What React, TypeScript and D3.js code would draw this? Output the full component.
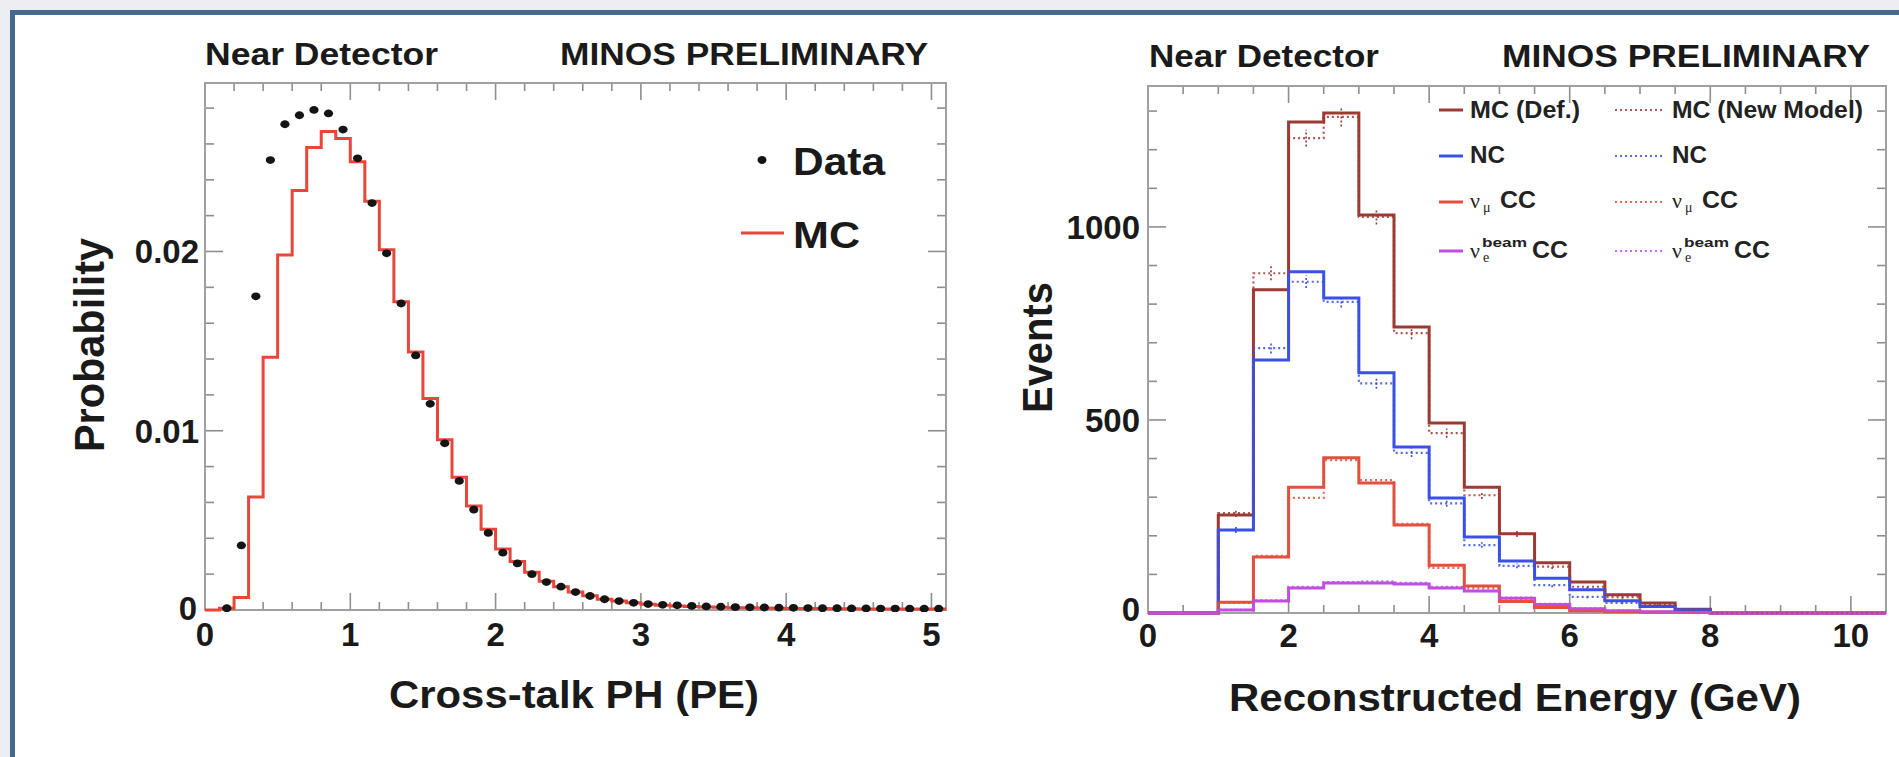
import React from 'react';
import * as d3 from 'd3';

// ---------- Left panel: cross-talk pulse height ----------
const xtalkBinWidth = 0.1;
const xtalkMC = [
  0, 0.0001, 0.0007, 0.0063, 0.0141, 0.0198, 0.0234, 0.0258, 0.0267, 0.0263,
  0.025, 0.0228, 0.0201, 0.0172, 0.0144, 0.0118, 0.0095, 0.0074, 0.0058, 0.0045,
  0.0034, 0.0027, 0.0021, 0.0016, 0.0013, 0.001, 0.0008, 0.0006, 0.0005, 0.0004,
  0.00032, 0.00027, 0.00023, 0.0002, 0.00017, 0.00015, 0.00013, 0.00012, 0.00011, 0.0001,
  0.00009, 0.00008, 0.00008, 0.00007, 0.00007, 0.00006, 0.00006, 0.00006, 0.00005, 0.00005, 0.00005,
];
const xtalkData: (number | null)[] = [
  null, 0.0001, 0.0036, 0.0175, 0.0251, 0.0271, 0.0276, 0.0279, 0.0277, 0.0268,
  0.0252, 0.0227, 0.0199, 0.0171, 0.0142, 0.0115, 0.0093, 0.0072, 0.0056, 0.0043,
  0.0032, 0.0026, 0.002, 0.00156, 0.0013, 0.001, 0.00078, 0.0006, 0.0005, 0.0004,
  0.00033, 0.00029, 0.00026, 0.00023, 0.0002, 0.00018, 0.00016, 0.00015, 0.00014, 0.00013,
  0.00012, 0.00011, 0.0001, 0.0001, 0.00009, 0.00009, 0.00008, 0.00008, 0.00007, 0.00007, 0.00007,
];
const xtalkXTicks = [0, 1, 2, 3, 4, 5];
const xtalkYTicks = [0, 0.01, 0.02];
const xtalkYTickLabels = ['0', '0.01', '0.02'];

// ---------- Right panel: reconstructed energy ----------
const energyBinWidth = 0.5;
const mcDef = [0, 0, 254, 837, 1272, 1295, 1031, 741, 492, 326, 205, 130, 80, 47, 26, 10, 0, 0, 0, 0, 0];
const ncDef = [0, 0, 215, 655, 884, 816, 622, 430, 298, 197, 135, 90, 60, 32, 17, 8, 0, 0, 0, 0, 0];
const numuDef = [0, 0, 28, 145, 326, 402, 337, 228, 124, 70, 30, 14, 6, 3, 2, 1, 0, 0, 0, 0, 0];
const nueDef = [0, 0, 8, 31, 65, 78, 78, 75, 65, 57, 38, 22, 11, 6, 3, 1, 0, 0, 0, 0, 0];
const mcNew = [0, 0, 259, 880, 1230, 1285, 1026, 725, 466, 305, 205, 120, 68, 41, 21, 8, 0, 0, 0, 0, 0];
const ncNew = [0, 0, 215, 686, 858, 806, 595, 415, 284, 176, 122, 72, 42, 26, 16, 9, 0, 0, 0, 0, 0];
const numuNew = [0, 0, 26, 148, 298, 396, 344, 231, 117, 65, 33, 13, 6, 3, 2, 1, 0, 0, 0, 0, 0];
const nueNew = [0, 0, 8, 33, 68, 80, 82, 78, 68, 58, 40, 24, 12, 6, 3, 1, 0, 0, 0, 0, 0];
const mcNewErr = [0, 0, 10, 18, 22, 25, 20, 16, 12, 10, 8, 6, 5, 4, 3, 2, 0, 0, 0, 0, 0];
const ncNewErr = [0, 0, 8, 14, 16, 15, 14, 11, 9, 7, 6, 5, 4, 3, 2, 2, 0, 0, 0, 0, 0];
const energyXTicks = [0, 2, 4, 6, 8, 10];
const energyYTicks = [0, 500, 1000];

const FONT = "'Liberation Sans', Arial, Helvetica, sans-serif";
const SERIF = "'Liberation Serif', 'DejaVu Serif', serif";
const FRAME = '#a0a0a0';
const TICK = '#8e8e8e';

const C_MC = '#9c3a33';
const C_NC = '#3a50e6';
const C_NUMU = '#e2503e';
const C_NUE = '#c04fe0';
const C_RED = '#e8463a';

// width a label would take at the reference's glyph width (33px Helvetica-like digits)
function labelWidth(s: string) {
  let w = 0;
  for (const ch of s) w += ch === '.' ? 0.278 : 0.556;
  return w * 33;
}

function histPath(values: number[], binW: number, xs: any, ys: any) {
  const pts: [number, number][] = values.map((v, i) => [i * binW, v]);
  pts.push([values.length * binW, values[values.length - 1]]);
  return (
    d3
      .line<[number, number]>()
      .x((d) => xs(d[0]))
      .y((d) => ys(d[1]))
      .curve(d3.curveStepAfter)(pts) || ''
  );
}

function Frame({ xs, ys, xMajor, xMinor, yMajor, yMinor }: any) {
  const [x0, x1] = xs.range();
  const [y0, y1] = ys.range();
  const lines: any[] = [];
  const xMaj = 17, xMin = 8, yMaj = 18, yMin = 9;
  const xd = xs.domain();
  const yd = ys.domain();
  const eps = 1e-9;
  const xTicks = d3.range(xd[0], xd[1] + eps, xMinor).filter((v) => v > xd[0] + eps && v < xd[1] - eps);
  xTicks.forEach((v, i) => {
    const isMaj = Math.abs(v / xMajor - Math.round(v / xMajor)) < 1e-6;
    const L = isMaj ? xMaj : xMin;
    const px = xs(v);
    lines.push(<line key={'xb' + i} x1={px} x2={px} y1={y0} y2={y0 - L} />);
    lines.push(<line key={'xt' + i} x1={px} x2={px} y1={y1} y2={y1 + L} />);
  });
  const yTicks = d3.range(yd[0], yd[1] + eps, yMinor).filter((v) => v > yd[0] + eps && v < yd[1] - eps);
  yTicks.forEach((v, i) => {
    const isMaj = Math.abs(v / yMajor - Math.round(v / yMajor)) < 1e-6;
    const L = isMaj ? yMaj : yMin;
    const py = ys(v);
    lines.push(<line key={'yl' + i} x1={x0} x2={x0 + L} y1={py} y2={py} />);
    lines.push(<line key={'yr' + i} x1={x1} x2={x1 - L} y1={py} y2={py} />);
  });
  return (
    <g>
      <g stroke={TICK} strokeWidth={1.6}>{lines}</g>
      <rect x={x0} y={y1} width={x1 - x0} height={y0 - y1} fill="none" stroke={FRAME} strokeWidth={2} />
    </g>
  );
}

function LeftPanel() {
  const xs = d3.scaleLinear().domain([0, 5.1]).range([205, 946]);
  const ys = d3.scaleLinear().domain([0, 0.0294]).range([610, 83]);
  const [x0, x1] = xs.range();
  const [y0, y1] = ys.range();
  return (
    <g fontFamily={FONT}>
      <defs>
        <clipPath id="clipL">
          <rect x={x0 - 2} y={y1} width={x1 - x0 + 4} height={y0 - y1 + 2} />
        </clipPath>
      </defs>
      <Frame xs={xs} ys={ys} xMajor={1} xMinor={0.2} yMajor={0.01} yMinor={0.002} />
      <g clipPath="url(#clipL)">
        <path d={histPath(xtalkMC, xtalkBinWidth, xs, ys)} fill="none" stroke={C_RED} strokeWidth={3} />
        {xtalkData.map((v, i) =>
          v == null ? null : (
            <ellipse key={i} cx={xs((i + 0.5) * xtalkBinWidth)} cy={ys(v)} rx={4.6} ry={3.9} fill="#141414" />
          )
        )}
      </g>
      {/* tick labels */}
      <g fontWeight="bold" fontSize={34} fill="#1a1a1a">
        {xtalkXTicks.map((t) => (
          <text
            key={'x' + t}
            x={xs(t)}
            y={646}
            textAnchor="middle"
            textLength={labelWidth(String(t))}
            lengthAdjust="spacingAndGlyphs"
          >
            {t}
          </text>
        ))}
        {xtalkYTicks.map((t, i) => (
          <text
            key={'y' + t}
            x={t === 0 ? 197 : 199}
            y={ys(t) + (t === 0 ? 10 : 12)}
            textAnchor="end"
            textLength={labelWidth(xtalkYTickLabels[i])}
            lengthAdjust="spacingAndGlyphs"
          >
            {xtalkYTickLabels[i]}
          </text>
        ))}
      </g>
      {/* titles */}
      <g fontWeight="bold" fill="#1a1a1a">
        <text x={205} y={65} fontSize={32} textLength={233} lengthAdjust="spacingAndGlyphs">
          Near Detector
        </text>
        <text x={560} y={65} fontSize={32} textLength={368} lengthAdjust="spacingAndGlyphs">
          MINOS PRELIMINARY
        </text>
        <text x={389} y={708} fontSize={38} textLength={370} lengthAdjust="spacingAndGlyphs">
          Cross-talk PH (PE)
        </text>
        <text
          transform="translate(104,452) rotate(-90)"
          x={0}
          y={0}
          fontSize={42}
          textLength={214}
          lengthAdjust="spacingAndGlyphs"
        >
          Probability
        </text>
      </g>
      {/* legend */}
      <ellipse cx={762} cy={160} rx={4.5} ry={4} fill="#141414" />
      <text x={793} y={175} fontSize={38} fontWeight="bold" fill="#1a1a1a" textLength={92} lengthAdjust="spacingAndGlyphs">
        Data
      </text>
      <line x1={741} x2={784} y1={233} y2={233} stroke={C_RED} strokeWidth={3} />
      <text x={793} y={248} fontSize={37} fontWeight="bold" fill="#1a1a1a" textLength={67} lengthAdjust="spacingAndGlyphs">
        MC
      </text>
    </g>
  );
}

function RightPanel() {
  const xs = d3.scaleLinear().domain([0, 10.5]).range([1148, 1886]);
  const ys = d3.scaleLinear().domain([0, 1365]).range([613, 86]);
  const [x0, x1] = xs.range();
  const [y0, y1] = ys.range();
  const solid = [
    { v: mcDef, c: C_MC },
    { v: ncDef, c: C_NC },
    { v: numuDef, c: C_NUMU },
    { v: nueDef, c: C_NUE },
  ];
  const dotted = [
    { v: mcNew, c: C_MC, e: mcNewErr },
    { v: ncNew, c: C_NC, e: ncNewErr },
    { v: numuNew, c: C_NUMU, e: null },
    { v: nueNew, c: C_NUE, e: null },
  ];
  const colA = 1439;
  const colB = 1615;
  const rowY = [110, 156, 202, 251];
  const rowBase = [118, 163, 208, 258];
  const nuLabel = (x: number, base: number, sub: string, sup: string | null) => (
    <g>
      <text x={x} y={base} fontFamily={SERIF} fontSize={22} fill="#222">
        ν
      </text>
      {sup && (
        <text x={x + 12} y={base - 11} fontSize={13} fontWeight="bold" fill="#222" textLength={45} lengthAdjust="spacingAndGlyphs">
          {sup}
        </text>
      )}
      <text x={x + 13} y={base + 4} fontFamily={SERIF} fontSize={14} fill="#222">
        {sub}
      </text>
      <text x={sup ? x + 62 : x + 30} y={base} fontSize={23} fontWeight="bold" fill="#222" textLength={36} lengthAdjust="spacingAndGlyphs">
        CC
      </text>
    </g>
  );
  return (
    <g fontFamily={FONT}>
      <defs>
        <clipPath id="clipR">
          <rect x={x0} y={y1} width={x1 - x0} height={y0 - y1 + 2} />
        </clipPath>
      </defs>
      <Frame xs={xs} ys={ys} xMajor={2} xMinor={0.5} yMajor={500} yMinor={100} />
      <g clipPath="url(#clipR)">
        {solid.map((s, i) => (
          <path key={'s' + i} d={histPath(s.v, energyBinWidth, xs, ys)} fill="none" stroke={s.c} strokeWidth={3} />
        ))}
        {dotted.map((s, i) => (
          <g key={'d' + i}>
            <path
              d={histPath(s.v, energyBinWidth, xs, ys)}
              fill="none"
              stroke={s.c}
              strokeOpacity={0.85}
              strokeWidth={2.2}
              strokeDasharray="2 3"
            />
            {s.e &&
              s.v.map((v, j) =>
                s.e![j] > 0 ? (
                  <line
                    key={j}
                    x1={xs((j + 0.5) * energyBinWidth)}
                    x2={xs((j + 0.5) * energyBinWidth)}
                    y1={ys(v - s.e![j])}
                    y2={ys(v + s.e![j])}
                    stroke={s.c}
                    strokeWidth={1.6}
                    strokeDasharray="2 2"
                  />
                ) : null
              )}
          </g>
        ))}
      </g>
      {/* tick labels */}
      <g fontWeight="bold" fontSize={34} fill="#1a1a1a">
        {energyXTicks.map((t) => (
          <text
            key={'x' + t}
            x={xs(t)}
            y={647}
            textAnchor="middle"
            textLength={labelWidth(String(t))}
            lengthAdjust="spacingAndGlyphs"
          >
            {t}
          </text>
        ))}
        {energyYTicks.map((t) => (
          <text
            key={'y' + t}
            x={1140}
            y={ys(t) + (t === 0 ? 8 : 12)}
            textAnchor="end"
            textLength={labelWidth(String(t))}
            lengthAdjust="spacingAndGlyphs"
          >
            {t}
          </text>
        ))}
      </g>
      <g fontWeight="bold" fill="#1a1a1a">
        <text x={1149} y={67} fontSize={32} textLength={230} lengthAdjust="spacingAndGlyphs">
          Near Detector
        </text>
        <text x={1502} y={67} fontSize={32} textLength={368} lengthAdjust="spacingAndGlyphs">
          MINOS PRELIMINARY
        </text>
        <text x={1229} y={711} fontSize={39} textLength={572} lengthAdjust="spacingAndGlyphs">
          Reconstructed Energy (GeV)
        </text>
        <text
          transform="translate(1052,413) rotate(-90)"
          x={0}
          y={0}
          fontSize={42}
          textLength={131}
          lengthAdjust="spacingAndGlyphs"
        >
          Events
        </text>
      </g>
      {/* legend */}
      <g>
        {[C_MC, C_NC, C_NUMU, C_NUE].map((c, i) => (
          <g key={'lg' + i}>
            <line x1={colA} x2={colA + 24} y1={rowY[i]} y2={rowY[i]} stroke={c} strokeWidth={3} />
            <line
              x1={colB}
              x2={colB + 47}
              y1={rowY[i]}
              y2={rowY[i]}
              stroke={c}
              strokeOpacity={0.85}
              strokeWidth={2.2}
              strokeDasharray="2 3"
            />
          </g>
        ))}
        <text x={1470} y={rowBase[0]} fontSize={23} fontWeight="bold" fill="#222" textLength={110} lengthAdjust="spacingAndGlyphs">
          MC (Def.)
        </text>
        <text x={1672} y={rowBase[0]} fontSize={23} fontWeight="bold" fill="#222" textLength={191} lengthAdjust="spacingAndGlyphs">
          MC (New Model)
        </text>
        <text x={1470} y={rowBase[1]} fontSize={23} fontWeight="bold" fill="#222" textLength={35} lengthAdjust="spacingAndGlyphs">
          NC
        </text>
        <text x={1672} y={rowBase[1]} fontSize={23} fontWeight="bold" fill="#222" textLength={35} lengthAdjust="spacingAndGlyphs">
          NC
        </text>
        {nuLabel(1470, rowBase[2], 'μ', null)}
        {nuLabel(1672, rowBase[2], 'μ', null)}
        {nuLabel(1470, rowBase[3], 'e', 'beam')}
        {nuLabel(1672, rowBase[3], 'e', 'beam')}
      </g>
    </g>
  );
}

export default function App() {
  const W = 1899;
  const H = 757;
  return (
    <svg
      width={W}
      height={H}
      viewBox={`0 0 ${W} ${H}`}
      style={{ position: 'absolute', left: 0, top: 0, display: 'block' }}
    >
      <rect x={0} y={0} width={W} height={H} fill="#eeeef2" />
      <rect x={15} y={15} width={W - 15} height={H - 15} fill="#ffffff" />
      <rect x={10} y={10} width={5} height={H - 10} fill="#46698f" />
      <rect x={10} y={10} width={W - 10} height={5} fill="#46698f" />
      <LeftPanel />
      <RightPanel />
    </svg>
  );
}
